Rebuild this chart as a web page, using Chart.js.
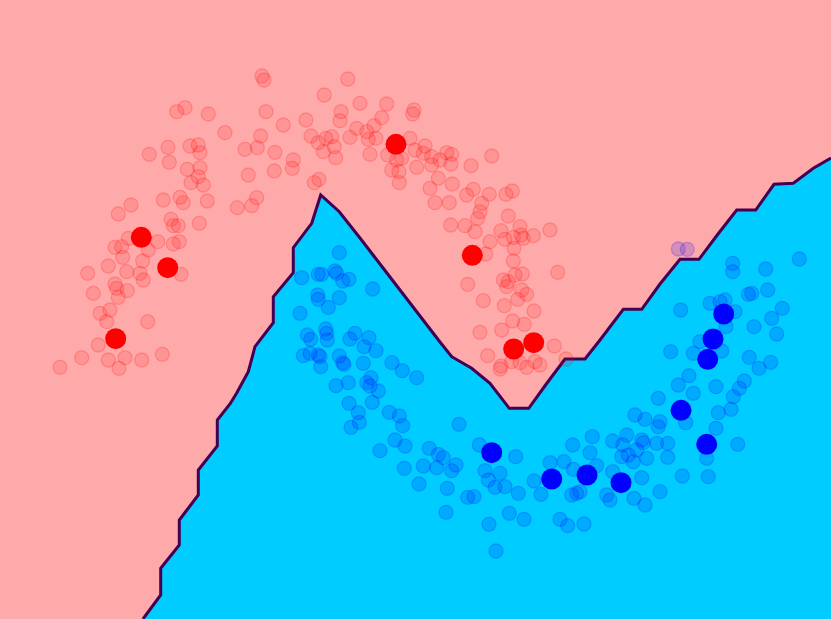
<!DOCTYPE html>
<html>
<head>
<meta charset="utf-8">
<script src="https://cdn.jsdelivr.net/npm/chart.js@4.4.1/dist/chart.umd.min.js"></script>
<style>
html,body{margin:0;padding:0;background:#FFAAAA;}
#wrap{width:831px;height:619px;}
</style>
</head>
<body>
<div id="wrap"><canvas id="c" width="831" height="619"></canvas></div>
<script>
// Decision boundary (x, y in plot units, y measured downward)
const boundaryX = [143,160.7,160.7,179.3,179.3,198.3,198.3,217.3,217.3,230,236.7,248.3,255,273.3,273.3,293.3,293.3,311.7,320.7,339.3,360,380,400,420,440,451.7,471.7,490,509.3,528.7,547,565,585,600,623.3,641.7,660,680,699,718,736.7,755.7,774,793.3,813.3,831];
const boundaryY = [619,595,568.3,545,520,495,470,446,420,404,393,371.7,346.7,322.7,296.7,272.7,247.7,223.3,195,211.7,238,264,290,316,342,356.7,368.3,383.3,408.3,408.3,383,359,359,340,309.3,309.3,284,259.3,259.3,234,210,210,184.3,183.3,168.3,158];

// Training class 0 (faded red)
const redTrain = [
[262,76],[264,80],[176.7,111.7],[185,107.7],[208.3,114],[266,111.7],[225,132.7],[283.3,125],[260.7,136],[245,149.3],[257.3,147.7],[275,152.3],[293.3,160],[292.3,168.3],[274.3,171],[248.3,175],[149.3,154.3],[168,147.3],[169.3,162.3],[190,146],[198.3,145],[200,152.7],[187.3,169.3],[200,167.7],[198.3,176.7],[191,182.7],[203.3,185],[207.3,201],[199.3,223.3],[256.7,197.7],[251.7,205.7],[237.3,207.7],[163.3,200],[180,197.3],[183.3,202.7],[131,205],[118.3,214],[171,219.3],[173.3,225.7],[178.3,225.7],[179.3,241.7],[173.3,244],[157.7,241.7],[148.3,250],[128.3,238.3],[115,247.3],[121.7,246.7],[122.7,257.3],[142.7,261],[140,273.3],[143.3,280],[126.7,271.7],[108.3,266],[87.7,273.3],[115,284],[116.7,288.3],[127.3,290.7],[118.3,297.3],[93.3,293.3],[181,274.3],[100,313.3],[110,310],[106.7,321.7],[147.7,321.7],[98.3,345],[81.7,357.7],[60,367.3],[108.3,360],[119,368.3],[125,357.7],[141.7,360],[162.3,354.3],
[347.7,79],[324.3,95],[360,103.3],[386.7,104],[414,110],[412.7,114],[341,111.7],[340,120.7],[306,120],[381.7,117.7],[374,125.7],[356.7,128.3],[366.7,131.7],[368.3,139.3],[376,138.3],[311,136],[318.3,142.7],[326,138.3],[331.7,136.7],[334.3,146.7],[323.3,151.7],[335.7,157.7],[350,137.3],[370,154.3],[410,138.3],[387.7,155],[401.7,158.3],[396.7,160],[391.7,170],[399,171.7],[399.3,182.7],[416.7,167.3],[415,150],[425,146],[423.3,153.3],[431.7,156.7],[431.7,165],[440,160],[446.7,152.7],[451.7,154.3],[451,164],[471,165.7],[491.7,156],[438.3,178.3],[314.3,182.7],[319,179.3],
[430,188.3],[435,202.7],[449.3,202.7],[452.3,184],[466.7,195],[473.3,189.3],[481.7,203.3],[480,211.7],[477.7,218.3],[489.3,194.3],[506,194.3],[512.3,191],[450.7,225],[465,225.7],[475,231.7],[508.3,216],[501,230.7],[520,226.7],[521,235],[505,239.3],[513.3,237.3],[523.3,238.3],[533.3,235.7],[550,230],[490,241.7],[514,248.3],[485.7,254],[513.3,261],[522.3,274],[557.7,272.3],[503.3,280],[508.3,281.7],[506.7,286.7],[515,275],[467.7,284.3],[521.7,290],[526.7,294.3],[517.7,299.3],[483.3,300.7],[504.3,305.7],[534,311],[512.7,321],[524.3,324.3],[501.7,330],[480,332.3],[554.3,346],[566,359],[487.7,355.7],[501,366],[500,369],[520,362.7],[526.7,367.3],[535,361.7],[540,365],[511.7,361.7]
];

// Training class 1 (faded blue)
const blueTrain = [
[339.3,252.7],[301.7,277.7],[318.3,274.3],[321.7,274.3],[335,271],[336.7,273.3],[342.7,281],[349,279.3],[372.7,289],[317.7,295],[318.3,299.3],[339.3,297.7],[328.3,307.3],[300,313.3],[307.3,335],[310.7,339.3],[325.7,329],[326.7,333.3],[327.3,340],[355,333.3],[350,339],[369,337.7],[364,346.7],[376,350.7],[303.3,355.7],[310,353.3],[318.3,355],[320,356.7],[320.7,366.7],[339.3,356],[342.7,362.7],[344,364.3],[363.3,363.3],[392,362.7],[402.3,370.7],[416.7,377.7],[336,385.7],[348.3,382.7],[366.7,382.7],[371,377.7],[370,386],[378.3,391],[372.3,402.3],[349,403.3],[358.3,412.7],[359.3,422.3],[351,427.3],[389.3,412.3],[399.3,416],[402.7,425.7],[459,424.3],[395,440],[405,446],[380,450.7],[429.3,448.3],[438.3,454.3],[443.3,457.7],[456,465],[451.7,470.7],[423.3,466],[436.7,467.7],[404.3,468.3],[419,484],[447.3,488.3],[467.7,497.3],[446,512.3],
[479.3,445],[515.7,456.7],[485,470.7],[500,473.3],[488.3,480],[495,487.3],[505,486.7],[474,496.7],[518.3,493.3],[509.3,513.3],[524,519.3],[489,524.3],[496,551],[534,481],[541,494.3],[550,462.7],[564,461.7],[572.7,445],[590,452.7],[592.3,436.7],[573.3,469.3],[596.7,465.7],[571.7,495],[576.7,493.3],[580,491.7],[560,519.3],[567.7,525.7],[584,524],[606.7,495],[610,500],[612.7,441],[622.7,445],[626.7,435],[621.7,456.7],[628.3,455],[633.3,461.7],[636.7,450],[643.3,442.7],[646.7,458.3],[641.7,440],[612.7,471.7],[641.7,477.7],[634,498.3],[645,505],[660,491.7],[667.7,457.3],[667.7,443.3],[682.3,476],[656.7,443.3],[658.3,426.7],[660,421.7],[635,415],[645,419.3],[658.3,398.3],[678.3,385],[693.3,393.3],[685.7,422.7],[706.7,458.3],[708.3,476.7],
[678.3,249],[687.3,249.3],[732.7,263.3],[732.7,271.7],[765.7,269],[799.3,259],[748.3,294.3],[751.7,293.3],[767.7,290],[710,303.3],[725,300],[720,301.7],[680.7,310],[735,311.7],[782.3,308.3],[771.7,318.3],[754,326.7],[776.7,334],[726,326.7],[700,341.7],[670.7,351.7],[693.3,353.3],[721.7,351],[749.3,357.3],[770.7,362.3],[759,368.3],[689,375.7],[716,386.7],[744.3,381],[739.3,388.3],[733.3,396.7],[731,409.3],[718.3,412.7],[716,428.3],[737.7,444.3]
];

// Test points (solid)
const redTest = [[141.3,237.3],[167.7,267.7],[115.7,338.7],[396,144.3],[472.3,255.3],[513.7,349],[533.7,342.7]];
const blueTest = [[491.7,452.7],[551.7,479],[587,475],[621,482.7],[681,410.3],[706.7,444.3],[707.7,359.3],[713,339],[723.7,314]];

const toXY = arr => arr.map(p => ({x: p[0], y: p[1]}));
const boundary = boundaryX.map((x, i) => ({x: x, y: boundaryY[i]}));

const bgPlugin = {
  id: 'bg',
  beforeDraw(chart) {
    const ctx = chart.ctx;
    ctx.save();
    ctx.fillStyle = '#FFAAAA';
    ctx.fillRect(0, 0, chart.width, chart.height);
    ctx.restore();
  }
};

new Chart(document.getElementById('c'), {
  type: 'scatter',
  data: {
    datasets: [
      {
        data: toXY(redTest), order: 0, clip: false,
        backgroundColor: '#FF0000', borderColor: '#FF0000', borderWidth: 0,
        pointRadius: 10.5, pointHoverRadius: 10.5
      },
      {
        data: toXY(blueTest), order: 0, clip: false,
        backgroundColor: '#0000FF', borderColor: '#0000FF', borderWidth: 0,
        pointRadius: 10.5, pointHoverRadius: 10.5
      },
      {
        data: toXY(redTrain), order: 5, clip: false,
        backgroundColor: 'rgba(255,0,0,0.13)', borderColor: 'rgba(255,0,0,0.2)', borderWidth: 1.3,
        pointRadius: 7, pointHoverRadius: 7
      },
      {
        data: toXY(blueTrain), order: 5, clip: false,
        backgroundColor: 'rgba(0,0,255,0.16)', borderColor: 'rgba(0,0,255,0.2)', borderWidth: 1.3,
        pointRadius: 7, pointHoverRadius: 7
      },
      {
        data: boundary, order: 10,
        showLine: true, pointRadius: 0, borderColor: '#440154', borderWidth: 3,
        backgroundColor: '#00CCFF', fill: {value: 619}, tension: 0,
        borderJoinStyle: 'miter'
      }
    ]
  },
  options: {
    responsive: false,
    devicePixelRatio: 1,
    animation: false,
    events: [],
    layout: {padding: 0, autoPadding: false},
    plugins: {legend: {display: false}, tooltip: {enabled: false}},
    scales: {
      x: {type: 'linear', min: 0, max: 831, display: false},
      y: {type: 'linear', min: 0, max: 619, reverse: true, display: false}
    }
  },
  plugins: [bgPlugin]
});
</script>
</body>
</html>
